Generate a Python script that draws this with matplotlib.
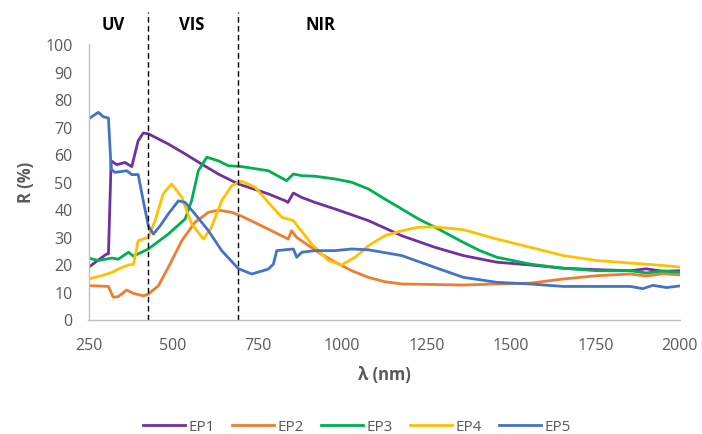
import matplotlib
matplotlib.use("Agg")
import matplotlib.pyplot as plt
from matplotlib.transforms import blended_transform_factory

plt.rcParams['font.family'] = ['Open Sans', 'DejaVu Sans']

# ---- data ----
ep1_nm = [250, 279, 304, 309, 317, 334, 358, 378, 397, 412, 427, 486, 536, 585, 634, 693,
          782, 832, 840, 856, 881, 920, 980, 1078, 1177, 1275, 1359, 1458, 1557, 1655, 1754,
          1853, 1900, 1950, 2000]
ep1_r = [18.9, 21.6, 23.8, 23.8, 57.6, 56.2, 57.0, 55.5, 64.9, 67.7, 67.4, 63.7, 60.1, 56.4, 52.8, 49.2,
         45.6, 43.1, 42.5, 45.9, 44.3, 42.5, 40.1, 35.9, 30.4, 26.2, 23.2, 20.8, 19.8, 18.6, 18.1,
         17.7, 18.4, 17.5, 17.7]

ep2_nm = [250, 309, 323, 338, 363, 383, 412, 427, 457, 486, 526, 565, 605, 634, 674, 703,
          782, 841, 851, 866, 930, 980, 1029, 1078, 1127, 1177, 1275, 1359, 1458, 1557, 1655,
          1754, 1853, 1900, 1950, 2000]
ep2_r = [12.3, 12.0, 8.1, 8.3, 10.7, 9.5, 8.6, 9.2, 12.3, 18.9, 28.6, 35.3, 38.9, 39.7, 38.9, 37.5,
         32.8, 29.2, 32.2, 29.8, 24.4, 20.8, 17.7, 15.3, 13.7, 12.9, 12.7, 12.5, 12.9, 13.2, 14.7,
         15.9, 16.5, 15.8, 16.6, 16.2]

ep3_nm = [250, 279, 319, 338, 368, 383, 427, 486, 536, 555, 575, 600, 634, 664, 703,
          782, 836, 856, 881, 920, 980, 1029, 1078, 1127, 1177, 1226, 1275, 1359, 1408,
          1458, 1557, 1655, 1754, 1853, 1900, 1950, 2000]
ep3_r = [22.3, 21.4, 22.3, 21.9, 24.4, 23.0, 25.6, 31.0, 36.5, 43.1, 54.0, 58.9, 57.6, 55.8, 55.5,
         54.0, 50.4, 52.8, 52.2, 52.0, 51.0, 49.8, 47.4, 43.7, 40.1, 36.5, 33.5, 28.0, 25.0,
         22.6, 20.1, 18.6, 17.7, 17.7, 16.9, 17.6, 17.1]

ep4_nm = [250, 289, 319, 338, 368, 383, 397, 427, 447, 471, 496, 526, 555, 590, 614, 644, 674,
          703, 743, 782, 822, 856, 871, 891, 910, 930, 960, 999, 1039, 1078, 1127, 1177,
          1226, 1275, 1359, 1458, 1557, 1655, 1754, 1853, 1951, 2000]
ep4_r = [14.7, 15.9, 17.1, 18.3, 19.8, 20.0, 28.6, 29.8, 35.9, 45.6, 49.2, 44.4, 34.7, 29.2, 33.5, 43.1, 48.6,
         50.2, 48.0, 42.5, 37.1, 35.9, 33.5, 30.4, 27.4, 25.0, 21.4, 19.8, 22.6, 26.8, 30.4, 32.2,
         33.5, 33.6, 32.6, 29.2, 26.2, 23.2, 21.4, 20.5, 19.6, 19.0]

ep5_nm = [250, 279, 294, 309, 317, 328, 363, 378, 397, 412, 427, 442, 462, 486, 516, 536, 565,
          605, 644, 693, 733, 782, 797, 807, 856, 866, 881, 920, 980, 1029, 1078, 1177, 1275,
          1359, 1458, 1557, 1655, 1754, 1853, 1890, 1920, 1960, 2000]
ep5_r = [72.8, 75.2, 73.6, 73.1, 54.6, 53.4, 54.0, 52.6, 52.6, 43.1, 34.0, 31.0, 34.0, 38.3, 43.1, 42.5, 38.3,
         32.2, 25.0, 18.5, 16.5, 18.3, 20.1, 25.0, 25.6, 22.6, 24.4, 25.0, 25.0, 25.6, 25.3, 23.2, 18.9,
         15.3, 13.5, 12.9, 12.0, 12.0, 12.0, 11.2, 12.4, 11.6, 12.2]

series_names = ["EP1", "EP2", "EP3", "EP4", "EP5"]
series_nm = [ep1_nm, ep2_nm, ep3_nm, ep4_nm, ep5_nm]
series_r = [ep1_r, ep2_r, ep3_r, ep4_r, ep5_r]
colors = ["#7030A0", "#ED7D31", "#00B050", "#FFC000", "#4472C4"]

region_labels = ["UV", "VIS", "NIR"]
region_label_x = [322, 556, 935]
region_bounds = [427, 693]

x_ticks = [250, 500, 750, 1000, 1250, 1500, 1750, 2000]
y_ticks = [0, 10, 20, 30, 40, 50, 60, 70, 80, 90, 100]

# ---- figure ----
fig = plt.figure(figsize=(7.02, 4.35), dpi=100)
ax = fig.add_axes([88.5/702, 1-320.5/435, (680-88.5)/702, (320.5-45)/435])

for name, xs, ys, c in zip(series_names, series_nm, series_r, colors):
    ax.plot(xs, ys, color=c, lw=2.0, label=name, solid_joinstyle='round')

ax.set_xlim(250, 2000)
ax.set_ylim(0, 100)
ax.set_xticks(x_ticks)
ax.set_yticks(y_ticks)

gray = "#595959"
ax.tick_params(axis='both', length=0, colors=gray, labelsize=11.5)
ax.tick_params(axis='x', pad=12.5)
ax.tick_params(axis='y', pad=11.5)
for s in ['top', 'right']:
    ax.spines[s].set_visible(False)
for s in ['left', 'bottom']:
    ax.spines[s].set_color("#BFBFBF")
    ax.spines[s].set_linewidth(1.0)

ax.set_xlabel("λ (nm)", fontsize=12, fontweight='bold', color=gray, labelpad=9)
ax.set_ylabel("R (%)", fontsize=12, fontweight='bold', color=gray, labelpad=7)

trans = blended_transform_factory(ax.transData, ax.transAxes)
top_y = (320.5 - 13) / (320.5 - 45)
for xb in region_bounds:
    ax.plot([xb, xb], [0, top_y], transform=trans, color='black', lw=1.0,
            linestyle=(0, (4, 2.5)), clip_on=False)
label_y = (320.5 - 25) / (320.5 - 45)
for lab, lx in zip(region_labels, region_label_x):
    ax.text(lx, label_y, lab, transform=trans, ha='center', va='center',
            fontsize=12, fontweight='bold', color='black')

leg = fig.legend(loc='center', bbox_to_anchor=(357/702, 1-428/435), ncol=5, frameon=False,
                 fontsize=11, handlelength=2.7, handletextpad=0.25, columnspacing=1.15,
                 borderpad=0.2)
for t in leg.get_texts():
    t.set_color(gray)

fig.savefig("out.png", dpi=100)
